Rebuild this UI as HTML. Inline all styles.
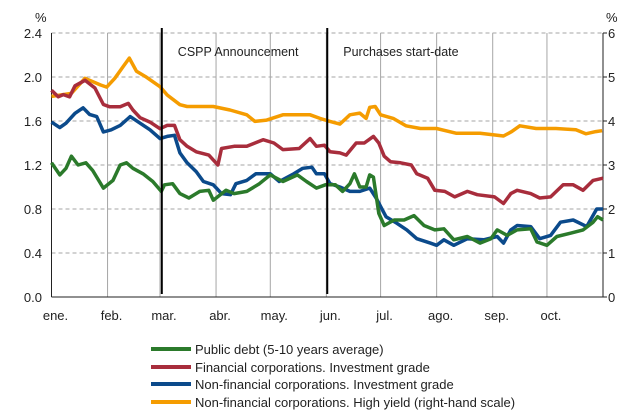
<!DOCTYPE html>
<html><head><meta charset="utf-8"><style>
html,body{margin:0;padding:0;background:#fff;}
svg{display:block;font-family:"Liberation Sans",Arial,sans-serif;}
</style></head><body>
<svg id="chart" width="637" height="412" viewBox="0 0 637 412"></svg>
<script>
const monthLabels=["ene.","feb.","mar.","abr.","may.","jun.","jul.","ago.","sep.","oct."];
const monthStartDays=[0,31,60,91,121,152,182,213,244,274];
const leftTicks=[0,0.4,0.8,1.2,1.6,2.0,2.4];
const rightTicks=[0,1,2,3,4,5,6];
const eventDays=[61,152.5];
const eventLabels=["CSPP Announcement","Purchases start-date"];
const greenDays=[0,4.6,8,11,14.7,19,22.8,28.7,34,38,41.5,45,50.6,56,60.7,62.5,67,71,76,82,87,89.5,96.5,101,108,115,121,128,136,141,146.5,151.5,157,161,165,167.5,170.5,174,176,178,181,184,189.5,195,200.5,206,212,217,222.5,230,237,243,246.5,252,257.5,265,268.5,274,279.5,287,294,299.5,302,305];
const greenVals=[1.22,1.11,1.17,1.28,1.20,1.22,1.15,0.99,1.06,1.20,1.22,1.17,1.12,1.05,0.96,1.02,1.03,0.94,0.90,0.96,0.97,0.88,0.97,0.94,0.96,1.03,1.11,1.05,1.11,1.05,0.99,1.02,1.02,0.96,1.03,1.12,1.00,1.00,1.11,1.09,0.76,0.65,0.70,0.70,0.74,0.65,0.61,0.62,0.52,0.55,0.49,0.53,0.61,0.56,0.61,0.62,0.50,0.47,0.55,0.58,0.61,0.68,0.73,0.70];
const redDays=[0,3.7,6.5,10,13,18.5,24,28.7,32,38,42.5,45,49,54.5,60,64,68,71,75,80,87,92,94,101,108,117,123,128,137,143,146.5,151,154,159.5,163,168.5,173,178,181,184,187.5,193,199,202,208,212,217.5,223,230,235.5,245,250,254,257.5,265,270,276,283,288.5,294,299.5,305];
const redVals=[1.88,1.82,1.84,1.82,1.92,1.97,1.90,1.75,1.73,1.73,1.76,1.70,1.63,1.59,1.53,1.56,1.56,1.43,1.37,1.32,1.29,1.20,1.35,1.37,1.37,1.43,1.40,1.34,1.35,1.44,1.37,1.38,1.32,1.31,1.29,1.40,1.40,1.46,1.40,1.28,1.23,1.22,1.20,1.12,1.08,0.97,0.96,0.91,0.96,0.93,0.91,0.85,0.94,0.97,0.94,0.90,0.91,1.02,1.02,0.97,1.06,1.08];
const blueDays=[0,4.6,8,13,17.5,21,25,28.7,33,38,43.5,49,54.5,60,64,68,71,75,80,84,89.5,94,99,102,108,113,121,126,134,139,144,146.5,151,154,159.5,165,170.5,176,179.5,185,191,196.5,202,209.5,213,217,222.5,230,239,246.5,250,254,257.5,265,270,276,281.5,288.5,296,301.5,305];
const blueVals=[1.59,1.54,1.58,1.67,1.72,1.66,1.64,1.50,1.52,1.56,1.64,1.58,1.52,1.44,1.46,1.47,1.31,1.22,1.14,1.05,1.02,0.94,0.93,1.03,1.06,1.12,1.12,1.05,1.12,1.17,1.18,1.12,1.12,1.03,1.00,0.96,0.96,0.99,0.90,0.73,0.67,0.61,0.53,0.49,0.47,0.52,0.47,0.53,0.52,0.55,0.49,0.61,0.65,0.64,0.53,0.56,0.68,0.70,0.64,0.80,0.80];
const orangeDays=[0,11,18.5,27,30.5,35,39.7,43,47,52,60,64,71,75,89.5,98.7,108,112.5,119,128,143,148.5,154,159.5,165,170.5,174,176,179,182,189,196,204,213,224,237,250,254.5,259,268,279,290,295.5,301,304.5];
const orangeVals=[4.56,4.63,4.97,4.82,4.77,4.97,5.24,5.43,5.13,5.01,4.78,4.59,4.37,4.33,4.33,4.25,4.14,3.99,4.02,4.14,4.14,4.06,3.99,3.93,4.14,4.18,4.06,4.31,4.33,4.14,4.06,3.89,3.83,3.83,3.72,3.72,3.66,3.76,3.89,3.83,3.83,3.80,3.71,3.76,3.78];
const legendLabels=["Public debt (5-10 years average)","Financial corporations. Investment grade","Non-financial corporations. Investment grade","Non-financial corporations. High yield (right-hand scale)"];

const NS="http://www.w3.org/2000/svg";
const svg=document.getElementById('chart');
const X0=51.5,X1=603,Y0=297,Y1=33;
const xs=d=>X0+d*(X1-X0)/305;
const yl=v=>Y0-v*(Y0-Y1)/2.4;
const yr=v=>Y0-v*(Y0-Y1)/6;
function mk(tag,attrs,parent){const e=document.createElementNS(NS,tag);for(const k in attrs)e.setAttribute(k,attrs[k]);(parent||svg).appendChild(e);return e;}

// horizontal gridlines
leftTicks.forEach((t,i)=>{
  if(t>0){const g=mk('line',{x1:X0,x2:X1,y1:yl(t),y2:yl(t),stroke:'#a6a6a6','stroke-dasharray':'4,3','stroke-width':1});
  
  }
  const tx=mk('text',{x:42,y:yl(t)+5,'text-anchor':'end','font-size':13,fill:'#222'});
  tx.textContent=t.toFixed(1);
  
  
});
rightTicks.forEach(t=>{
  const tx=mk('text',{x:608,y:yr(t)+5,'font-size':13,fill:'#222'});
  tx.textContent=t;
  
  
  const tk=mk('line',{x1:X1,x2:X1+4,y1:yr(t),y2:yr(t),stroke:'#222'});
  
  
});
// vertical month gridlines + labels
monthStartDays.forEach((d,i)=>{
  if(d>0){const g=mk('line',{x1:xs(d),x2:xs(d),y1:Y1,y2:Y0,stroke:'#a6a6a6','stroke-width':1});
  
  }
  const tx=mk('text',{x:xs(d)+4,y:320,'text-anchor':'middle','font-size':13,fill:'#222'});
  tx.textContent=monthLabels[i];
  
  
});
// axes
[[X0,Y1,X0,Y0],[X0,Y0,X1,Y0],[X1,Y1,X1,Y0]].forEach(a=>{
  const l=mk('line',{x1:a[0],y1:a[1],x2:a[2],y2:a[3],stroke:'#222','stroke-width':1});
  
  
});
const pl=mk('text',{x:35,y:22,'font-size':13,fill:'#222'});pl.textContent='%';


const pr=mk('text',{x:606,y:22,'font-size':13,fill:'#222'});pr.textContent='%';



// series
function series(days,vals,scale,color,name){
  const p=days.map((d,i)=>xs(d).toFixed(1)+','+scale(vals[i]).toFixed(1)).join(' ');
  const l=mk('polyline',{points:p,fill:'none',stroke:color,'stroke-width':3.5,'stroke-linejoin':'round'});
  
  
}
series(orangeDays,orangeVals,yr,'#f59c00','series-high-yield');
series(redDays,redVals,yl,'#a82d3c','series-financial-ig');
series(blueDays,blueVals,yl,'#0b4a8b','series-nonfinancial-ig');
series(greenDays,greenVals,yl,'#2b7a2b','series-public-debt');

// event lines
eventDays.forEach((d,i)=>{
  const l=mk('line',{x1:xs(d),x2:xs(d),y1:28,y2:294,stroke:'#000','stroke-width':2});
  
  
  const t=mk('text',{x:xs(d)+16,y:56,'font-size':12.5,fill:'#222'});
  t.textContent=eventLabels[i];
  
  
});

// legend
const legColors=['#2b7a2b','#a82d3c','#0b4a8b','#f59c00'];
const legY=[349,367,384,402];
legendLabels.forEach((lab,i)=>{
  const g=mk('g',{});
  
  
  mk('line',{x1:151,x2:191,y1:legY[i],y2:legY[i],stroke:legColors[i],'stroke-width':4},g);
  const t=mk('text',{x:195,y:legY[i]+5,'font-size':13,fill:'#222'},g);
  t.textContent=lab;
});
</script>
</body></html>
